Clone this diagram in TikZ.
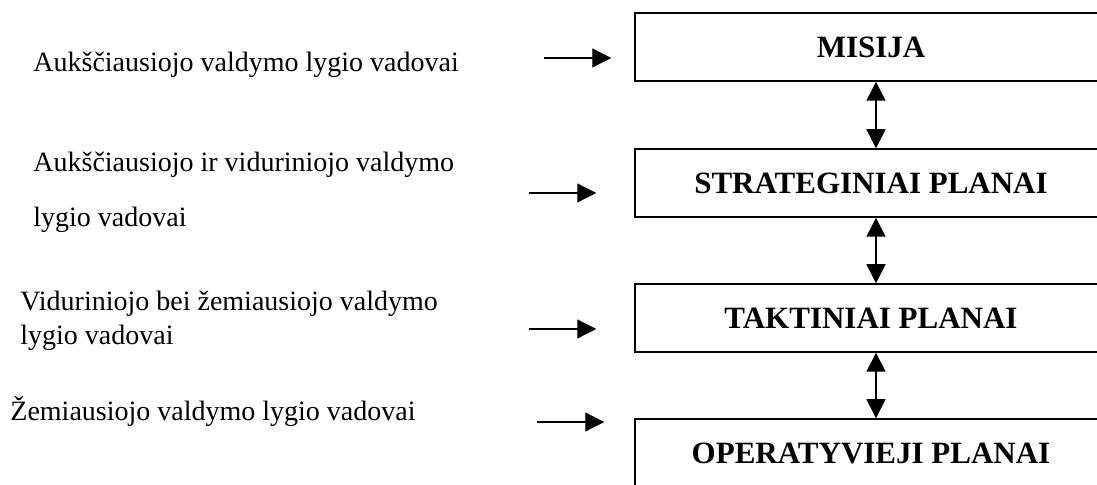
\documentclass[tikz,border=0pt]{standalone}
\usepackage{fontspec}
\setmainfont{Liberation Serif}
\usetikzlibrary{arrows.meta,positioning,calc}

\begin{document}
\begin{tikzpicture}[
    x=0.5pt, y=-0.5pt,
    level/.style={
        draw=black,
        line width=0.75pt,
        minimum width=236pt,
        minimum height=34pt,
        inner sep=0pt,
        font=\fontsize{15.5}{17}\selectfont\bfseries,
    },
    who/.style={
        anchor=base west,
        inner sep=0pt,
        align=left,
        font=\fontsize{14}{17}\selectfont,
    },
    inarrow/.style={
        -{Triangle[length=9.5pt,width=9.5pt]},
        line width=0.6pt,
    },
    linkarrow/.style={
        {Triangle[length=9.5pt,width=9.5pt]}-{Triangle[length=9.5pt,width=9.5pt]},
        line width=0.8pt,
    },
]
\useasboundingbox (0,0) rectangle (1097,485);

% levels of planning
\node[level] (mis) at (871,47)  {MISIJA};
\node[level] (str) at (871,183) {STRATEGINIAI PLANAI};
\node[level] (tak) at (871,318) {TAKTINIAI PLANAI};
\node[level] (opr) at (871,453) {OPERATYVIEJI PLANAI};

% who makes them (base = last line)
\node[who] (top) at (33,72) {Aukščiausiojo valdymo lygio vadovai};
\node[who] (topmid) at (33,227) {Aukščiausiojo ir viduriniojo valdymo\\[10.5pt]lygio vadovai};
\node[who] (midlow) at (20,345) {Viduriniojo bei žemiausiojo valdymo\\lygio vadovai};
\node[who] (low) at (10,421) {Žemiausiojo valdymo lygio vadovai};

\coordinate (a1) at (544,58);
\coordinate (a2) at (529,193);
\coordinate (a3) at (529,329);
\coordinate (a4) at (537,422);

\draw[inarrow,shorten >=11.5pt] (a1) -- (a1 -| mis.west);
\draw[inarrow,shorten >=19pt] (a2) -- (a2 -| str.west);
\draw[inarrow,shorten >=19pt] (a3) -- (a3 -| tak.west);
\draw[inarrow,shorten >=15pt] (a4) -- (a4 -| opr.west);

\draw[linkarrow] ([xshift=2.5pt]mis.south) -- ([xshift=2.5pt]str.north);
\draw[linkarrow] ([xshift=2.5pt]str.south) -- ([xshift=2.5pt]tak.north);
\draw[linkarrow] ([xshift=2.5pt]tak.south) -- ([xshift=2.5pt]opr.north);
\end{tikzpicture}
\end{document}
